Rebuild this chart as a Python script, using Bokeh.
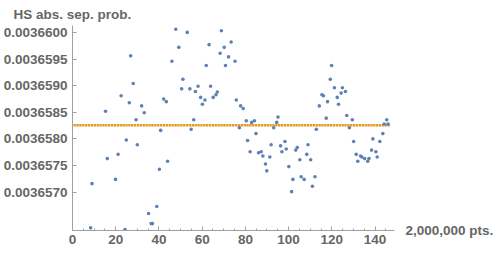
from bokeh.plotting import figure
from bokeh.models import (FixedTicker, PrintfTickFormatter, Range1d, LinearAxis,
                          CustomJSTickFormatter)
from bokeh.embed import file_html
from bokeh.resources import INLINE

# ---- data ----
x_pts = [8.4, 9.0, 15.3, 16.1, 19.9, 21.1, 22.5, 24.3, 24.9, 26.3, 26.9, 28.1, 29.4, 30.0,
         32.0, 33.2, 35.2, 36.4, 37.0, 39.0, 40.2, 40.8, 42.2, 43.4, 44.0, 46.0, 47.8, 49.2,
         50.5, 51.1, 53.1, 54.3, 54.9, 56.1, 56.9, 58.1, 59.3, 60.1, 61.3, 61.9, 63.2, 63.9,
         65.1, 66.4, 67.0, 68.3, 68.9, 70.2, 70.8, 72.2, 73.4, 75.2, 75.8, 77.2, 77.8, 79.0,
         80.4, 81.0, 82.2, 82.9, 84.2, 84.9, 86.1, 87.3, 88.1, 89.3, 89.9, 91.3, 91.9, 93.1,
         94.5, 95.1, 96.3, 96.9, 98.3, 98.9, 100.1, 101.4, 102.0, 103.3, 104.0, 105.2, 105.8,
         107.2, 108.4, 109.0, 110.2, 111.0, 112.2, 112.8, 114.2, 115.4, 116.1, 117.4, 118.0,
         119.3, 119.9, 121.2, 122.5, 123.1, 124.3, 124.9, 126.3, 126.9, 128.1, 129.5, 130.1,
         131.3, 132.0, 133.3, 133.9, 135.2, 136.6, 137.2, 138.4, 139.0, 140.4, 141.0, 142.2,
         143.6, 144.2, 145.4, 146.0]
y_pts = [0.00365633, 0.00365716, 0.00365852, 0.00365763, 0.00365724, 0.00365771, 0.00365881,
         0.00365630, 0.00365798, 0.00365868, 0.00365956, 0.00365904, 0.00365836, 0.00365789,
         0.00365862, 0.00365849, 0.00365660, 0.00365641, 0.00365641, 0.00365673, 0.00365743,
         0.00365816, 0.00365875, 0.00365870, 0.00365758, 0.00365946, 0.00366006, 0.00365972,
         0.00365894, 0.00365912, 0.00366000, 0.00365894, 0.00365818, 0.00365836, 0.00365889,
         0.00365899, 0.00365878, 0.00365865, 0.00365873, 0.00365938, 0.00365977, 0.00365899,
         0.00365878, 0.00365883, 0.00365888, 0.00365961, 0.00366003, 0.00365972, 0.00365938,
         0.00365954, 0.00365982, 0.00365946, 0.00365873, 0.00365821, 0.00365862, 0.00365857,
         0.00365834, 0.00365797, 0.00365776, 0.00365831, 0.00365834, 0.00365810, 0.00365774,
         0.00365776, 0.00365768, 0.00365753, 0.00365740, 0.00365766, 0.00365789, 0.00365821,
         0.00365831, 0.00365841, 0.00365787, 0.00365776, 0.00365795, 0.00365781, 0.00365748,
         0.00365701, 0.00365724, 0.00365779, 0.00365784, 0.00365761, 0.00365729, 0.00365724,
         0.00365771, 0.00365789, 0.00365761, 0.00365711, 0.00365729, 0.00365818, 0.00365862,
         0.00365883, 0.00365881, 0.00365839, 0.00365870, 0.00365912, 0.00365938, 0.00365896,
         0.00365878, 0.00365865, 0.00365886, 0.00365896, 0.00365889, 0.00365844, 0.00365821,
         0.00365836, 0.00365795, 0.00365771, 0.00365758, 0.00365768, 0.00365766, 0.00365763,
         0.00365758, 0.00365763, 0.00365779, 0.00365800, 0.00365776, 0.00365766, 0.00365795,
         0.00365810, 0.00365828, 0.00365836, 0.00365828]
mean_x = [1 + 4 * k / 3 for k in range(110)]   # sample positions of the mean marker row
mean_level = 0.003658258
x_major = [0, 20, 40, 60, 80, 100, 120, 140]
y_major = [0.0036570, 0.0036575, 0.0036580, 0.0036585, 0.0036590, 0.0036595, 0.0036600]
title_text = "HS abs. sep. prob."
x_caption = "2,000,000 pts."

BLUE = "#5E81B5"
ORANGE = "#E19C24"
GRAY = "#666666"
AXIS = "#A0A0A0"
FONT = "Liberation Sans"
FS = "13.5px"

x0, x1 = 0, 149
y0, y1 = 0.00365628, 0.00366013

p = figure(width=500, height=254, output_backend="svg", toolbar_location=None,
           x_range=Range1d(x0, x1), y_range=Range1d(y0, y1),
           min_border_left=69, min_border_right=106, min_border_top=25, min_border_bottom=24)
p.outline_line_color = None
p.xgrid.visible = False
p.ygrid.visible = False
p.background_fill_color = "white"
p.border_fill_color = "white"

p.title.text = title_text
p.title.align = "left"
p.title.offset = -59
p.title.standoff = 8
p.title.text_font = FONT
p.title.text_font_style = "bold"
p.title.text_font_size = FS
p.title.text_color = GRAY

p.scatter(mean_x, [mean_level] * len(mean_x), marker="square", size=2.4,
          color=ORANGE, line_color=None)
p.scatter(x_pts, y_pts, marker="circle", size=3.6, color=BLUE, line_color=None)

xminor = [v for v in range(0, 150, 5)]
yminor = [0.003656 + k * 1e-7 for k in range(63, 101)]
p.xaxis.ticker = FixedTicker(ticks=x_major, minor_ticks=xminor)
p.yaxis.ticker = FixedTicker(ticks=y_major, minor_ticks=yminor)
p.yaxis.formatter = PrintfTickFormatter(format="%.7f")

for ax in (p.xaxis[0], p.yaxis[0]):
    ax.axis_label = None
    ax.axis_label_standoff = 0
    ax.axis_line_color = AXIS
    ax.major_tick_line_color = AXIS
    ax.minor_tick_line_color = AXIS
    ax.major_tick_in = 4
    ax.major_tick_out = 0
    ax.minor_tick_in = 2
    ax.minor_tick_out = 0
    ax.major_label_text_color = GRAY
    ax.major_label_text_font = FONT
    ax.major_label_text_font_style = "bold"
    ax.major_label_text_font_size = FS
p.xaxis.major_label_standoff = 4
p.yaxis.major_label_standoff = 5

# caption at the right end of the x axis, via a tick-only right axis
cap_axis = LinearAxis(ticker=FixedTicker(ticks=[y0 + 1e-12], minor_ticks=[]),
                      formatter=CustomJSTickFormatter(code=f"return '{x_caption}';"),
                      axis_label=None, axis_label_standoff=0,
                      axis_line_color=None, major_tick_line_color=None,
                      minor_tick_line_color=None, major_tick_in=0, major_tick_out=0,
                      minor_tick_in=0, minor_tick_out=0, major_label_standoff=11,
                      major_label_text_color=GRAY, major_label_text_font=FONT,
                      major_label_text_font_style="bold", major_label_text_font_size=FS)
p.add_layout(cap_axis, "right")

open("out.html", "w").write(file_html(p, INLINE))
